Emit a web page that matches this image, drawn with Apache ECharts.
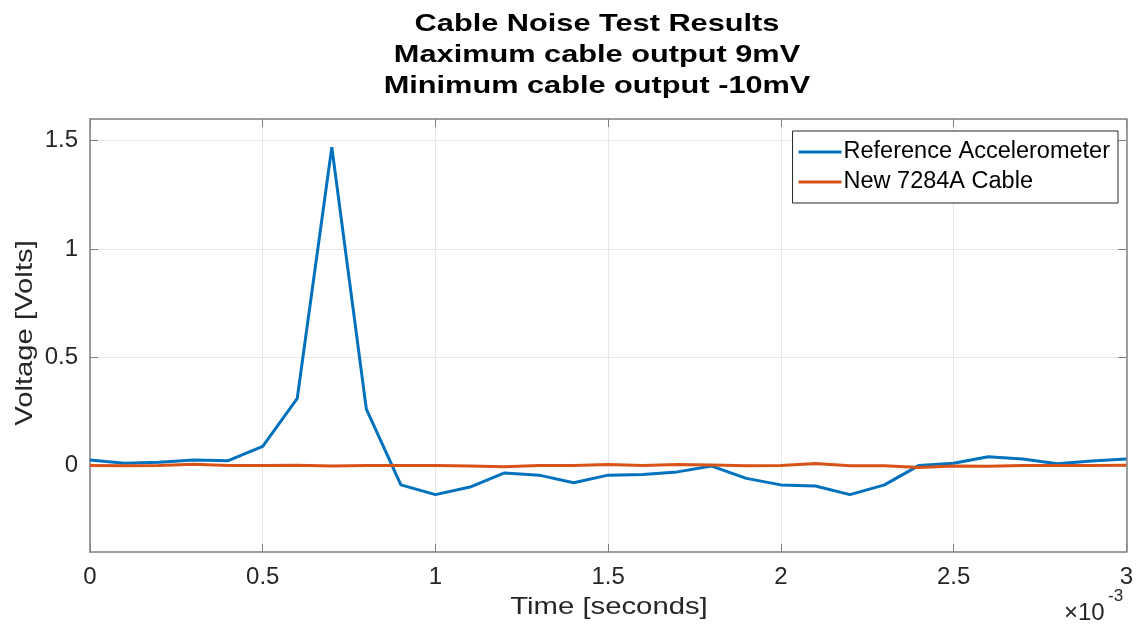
<!DOCTYPE html>
<html>
<head>
<meta charset="utf-8">
<script src="https://cdn.jsdelivr.net/npm/echarts@6/dist/echarts.min.js"></script>
<style>
  html, body { margin: 0; padding: 0; background: #fff; }
  #chart { width: 1136px; height: 628px; }
</style>
</head>
<body>
<div id="chart"></div>
<script>
// time in seconds, one sample every 0.1 ms
const timeSec = [];
for (let i = 0; i <= 30; i++) timeSec.push(i * 1e-4);

const referenceAccel = [
  0.025, 0.01, 0.015, 0.025, 0.022, 0.088, 0.31, 1.47, 0.26, -0.09,
  -0.135, -0.10, -0.035, -0.045, -0.08, -0.045, -0.042, -0.03, -0.003, -0.06,
  -0.09, -0.095, -0.135, -0.09, 0.0, 0.01, 0.04, 0.03, 0.008, 0.02, 0.03
];
const cable7284A = [
  0.0, -0.002, 0.0, 0.005, 0.0, 0.0, 0.001, -0.003, -0.001, 0.0,
  -0.001, -0.003, -0.006, 0.0, 0.0, 0.004, 0.0, 0.004, 0.002, -0.002,
  0.0, 0.009, -0.002, -0.002, -0.01, -0.003, -0.004, 0.0, 0.0, 0.0, 0.001
];
const yTicks = [0, 0.5, 1, 1.5];
const titleLines = ['Cable Noise Test Results', 'Maximum cable output 9mV', 'Minimum cable output -10mV'];

const font = 'Liberation Sans, Arial, sans-serif';
const txt = '#262626';
const axisCol = '#7f7f7f';
const stretch = 1.22; // reference text is drawn wider than Liberation Sans

const tick = { show: true, inside: true, length: 8, lineStyle: { color: axisCol } };
const line = { show: true, onZero: false, lineStyle: { color: axisCol, width: 1.5 } };

const chart = echarts.init(document.getElementById('chart'));
chart.setOption({
  animation: false,
  legend: {
    orient: 'vertical', right: 18, top: 131,
    backgroundColor: '#fff', borderColor: '#262626', borderWidth: 1,
    padding: [9, 8, 9, 6], itemGap: 6, itemWidth: 43, itemHeight: 3,
    icon: 'rect',
    textStyle: { fontFamily: font, fontSize: 23.5, color: '#000', padding: [0, 0, 0, -3] },
    data: ['Reference Accelerometer', 'New 7284A Cable']
  },
  grid: { left: 90, right: 6, top: 119, bottom: 76 },
  xAxis: [{
    type: 'value', min: 0, max: 3e-3, interval: 5e-4,
    axisLine: line, axisTick: tick,
    axisLabel: { fontFamily: font, fontSize: 24, color: txt, margin: 13,
      formatter: v => String(Math.round(v * 1e4) / 10) },
    splitLine: { show: true, lineStyle: { color: '#e6e6e6' } }
  }, {
    type: 'value', position: 'top', min: 0, max: 3e-3, interval: 5e-4,
    axisLine: line, axisTick: tick, axisLabel: { show: false }, splitLine: { show: false }
  }],
  yAxis: [{
    type: 'value', min: -0.4, max: 1.6,
    axisLine: line,
    axisTick: Object.assign({ customValues: yTicks }, tick),
    axisLabel: { fontFamily: font, fontSize: 24, color: txt, margin: 12, customValues: yTicks },
    splitLine: { show: true, lineStyle: { color: '#e6e6e6' } }
  }, {
    type: 'value', position: 'right', min: -0.4, max: 1.6,
    axisLine: line,
    axisTick: Object.assign({ customValues: yTicks }, tick),
    axisLabel: { show: false }, splitLine: { show: false }
  }],
  graphic: [
    {
      type: 'text', x: 597, y: 9, scaleX: 1.28,
      style: {
        text: titleLines.join('\n'), align: 'center',
        fontFamily: font, fontWeight: 'bold', fontSize: 24, lineHeight: 31, fill: '#000'
      }
    },
    {
      type: 'text', x: 609, y: 595, scaleX: stretch,
      style: { text: 'Time [seconds]', align: 'center', fontFamily: font, fontSize: 24, fill: txt }
    },
    {
      type: 'text', x: 13, y: 333, rotation: Math.PI / 2, scaleX: stretch,
      style: { text: 'Voltage [Volts]', align: 'center', fontFamily: font, fontSize: 24, fill: txt }
    },
    {
      type: 'text', x: 1064, y: 601,
      style: { text: '×10', fontFamily: font, fontSize: 24, fill: txt }
    },
    {
      type: 'text', x: 1108, y: 588,
      style: { text: '-3', fontFamily: font, fontSize: 17, fill: txt }
    }
  ],
  series: [
    {
      name: 'Reference Accelerometer', type: 'line', symbol: 'none',
      data: timeSec.map((t, i) => [t, referenceAccel[i]]),
      lineStyle: { color: '#0072BD', width: 3 }, itemStyle: { color: '#0072BD' }
    },
    {
      name: 'New 7284A Cable', type: 'line', symbol: 'none',
      data: timeSec.map((t, i) => [t, cable7284A[i]]),
      lineStyle: { color: '#D95319', width: 3 }, itemStyle: { color: '#D95319' }
    }
  ]
});
</script>
</body>
</html>
